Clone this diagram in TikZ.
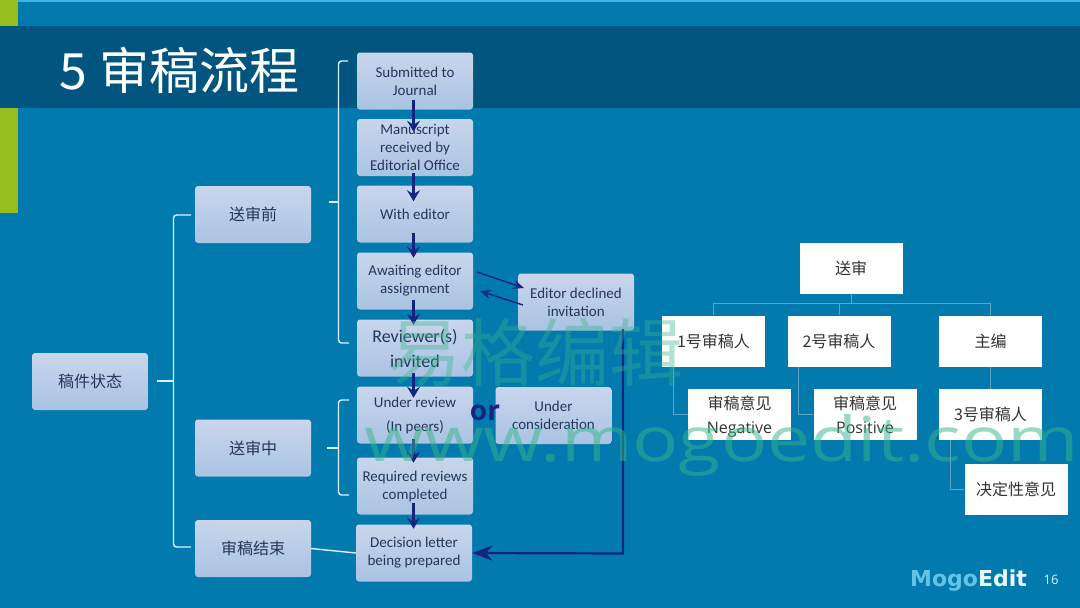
\documentclass[tikz,border=0pt]{standalone}
\usepackage{fontspec}
\setmainfont{Carlito}
\newfontfamily\cjk{Noto Sans CJK SC}
\newfontfamily\logofont{DejaVu Sans}
\newfontfamily\wmfont{Open Sans}
\usetikzlibrary{arrows.meta}
\definecolor{bgblue}{HTML}{037AAE}
\definecolor{band}{HTML}{02557E}
\definecolor{topline}{HTML}{3FB4E0}
\definecolor{lime}{HTML}{96BE1E}
\definecolor{boxtop}{HTML}{C9D6EC}
\definecolor{boxbot}{HTML}{A9C3E2}
\definecolor{boxtext}{HTML}{26365A}
\definecolor{navy}{HTML}{15257F}
\definecolor{treeline}{HTML}{5FA6C4}
\definecolor{wmgreen}{HTML}{35B58A}
\tikzset{
 x=1pt,y=-1pt,
 bluebox/.style={draw=none,rounded corners=3pt,top color=boxtop,bottom color=boxbot,text=boxtext,align=center,inner sep=0pt,minimum width=116pt,minimum height=57pt,font=\fontsize{15}{18}\selectfont},
 catbox/.style={bluebox,font=\cjk\fontsize{16}{18}\selectfont},
 whitebox/.style={fill=white,draw=none,text=black!80,align=center,inner sep=0pt,minimum width=103pt,minimum height=51pt,font=\cjk\fontsize{16}{24}\selectfont},
 flow/.style={draw=navy,line width=2.2pt,-{Stealth[length=11pt,width=13pt,inset=4pt]}},
 thinflow/.style={draw=navy,line width=1.4pt,-{Stealth[length=11pt,width=9pt,inset=4pt]}},
 bigflow/.style={draw=navy,line width=2.2pt,-{Stealth[length=20pt,width=15pt,inset=6pt]}},
 bracket/.style={draw=white!85!cyan,line width=1.4pt,rounded corners=3pt},
 treeedge/.style={draw=treeline,line width=0.8pt},
}
\begin{document}
\begin{tikzpicture}
\useasboundingbox (0,0) rectangle (1080,608);
\fill[bgblue] (0,0) rectangle (1080,608);
\fill[topline] (0,0) rectangle (1080,1.5);
\fill[lime] (0,0) rectangle (18,26);
\fill[lime] (0,108) rectangle (18,213);
\fill[band] (0,26) rectangle (1080,108);
\node[anchor=west,text=white,inner sep=0pt,font=\cjk\fontsize{50}{52}\selectfont] (title) at (59,70) {5\hspace{1pt} 审稿流程};
% left column
\node[catbox] (state) at (90,381.5) {稿件状态};
\node[catbox] (pre) at (253,214.5) {送审前};
\node[catbox] (mid) at (253,448) {送审中};
\node[catbox] (end) at (253,548.5) {审稿结束};
% flow column
\node[bluebox] (a1) at (415,81) {Submitted to\\Journal};
\node[bluebox] (a2) at (415,147.5) {Manuscript\\received by\\Editorial Office};
\node[bluebox] (a3) at (415,214) {With editor};
\node[bluebox] (a4) at (415,281) {Awaiting editor\\assignment};
\node[bluebox,font=\fontsize{18}{25}\selectfont] (a5) at (415,348) {Reviewer(s)\\invited};
\node[bluebox,font=\fontsize{15}{24}\selectfont] (a6) at (415,415) {Under review\\(In peers)};
\node[bluebox] (a7) at (415,486) {Required reviews\\completed};
\node[bluebox] (a8) at (414,553) {Decision letter\\being prepared};
\node[bluebox] (dec) at (576,302) {Editor declined\\invitation};
\node[bluebox] (cons) at (553.5,415.5) {Under\\consideration};
% flow arrows
\draw[flow] (a1.south) ++(-1.5,-10) -- ++(0,32);
\draw[flow] (a2.south) ++(-1.5,-3) -- ++(0,28);
\draw[flow] (a3.south) ++(-1.5,-10) -- ++(0,25);
\draw[flow] (a4.south) ++(-1.5,-10) -- ++(0,25);
\draw[flow] (a5.south) ++(-1.5,-4) -- ++(0,25);
\draw[flow] (a6.south) ++(-1.5,-5) -- ++(0,24);
\draw[flow] (a7.south) ++(-1.5,-12) -- ++(0,26);
\coordinate (s4) at (477,272);
\coordinate (e4) at (524,288);
\coordinate (s5) at (523,305);
\coordinate (e5) at (480,291);
\draw[thinflow] (s4) -- (e4);
\draw[thinflow] (s5) -- (e5);
\coordinate (bend) at (623,553.5);
\coordinate (ds) at (623,329);
\draw[bigflow] (ds) -- (bend) -- (a8.east);
% brackets
\coordinate (b1t) at (191,215);
\coordinate (b1b) at (191,547);
\coordinate (b1m) at (157,381);
\draw[bracket] (b1t) -- (173.5,215) -- (173.5,547) -- (b1b);
\draw[bracket] (b1m) -- (173.5,381);
\coordinate (b2t) at (348,61);
\coordinate (b2b) at (349,343);
\coordinate (b2m) at (329,202);
\draw[bracket] (b2t) -- (338.5,61) -- (338.5,343) -- (b2b);
\draw[bracket] (b2m) -- (338.5,202);
\coordinate (b3t) at (349,400);
\coordinate (b3b) at (349,495);
\coordinate (b3m) at (327,448);
\draw[bracket] (b3t) -- (338.5,400) -- (338.5,495) -- (b3b);
\draw[bracket] (b3m) -- (338.5,448);
\draw[bracket] (end.east) -- (a8.west);
% right tree
\node[whitebox] (root) at (851,268.5) {送审};
\node[whitebox] (r1) at (713.5,341) {1号审稿人};
\node[whitebox] (r2) at (839,341) {2号审稿人};
\node[whitebox] (ed) at (990.5,341) {主编};
\node[whitebox] (o1) at (739.5,414.5) {审稿意见\\\smash{\fontspec{Open Sans}Negative}};
\node[whitebox] (o2) at (865,414.5) {审稿意见\\{\fontspec{Open Sans}Positive}};
\node[whitebox] (r3) at (990.5,414.5) {3号审稿人};
\node[whitebox] (fin) at (1016,489) {决定性意见};
\coordinate (jt) at (851,303);
\coordinate (c1) at (673,367);
\coordinate (c2) at (798,367);
\coordinate (c3) at (950,440);
\draw[treeedge] (root.south) -- (jt);
\draw[treeedge] (r1.north) |- (jt);
\draw[treeedge] (r2.north) |- (jt);
\draw[treeedge] (ed.north) |- (jt);
\draw[treeedge] (ed.south) -- (r3.north);
\draw[treeedge] (c1) |- (o1.west);
\draw[treeedge] (c2) |- (o2.west);
\draw[treeedge] (c3) |- (fin.west);
% footer
\node[anchor=west,inner sep=0pt,font=\logofont\bfseries\fontsize{22}{22}\selectfont] (logo) at (910,581) {\textcolor{topline!80!white}{Mogo}\textcolor{white!90!cyan}{Edit}};
\node[text=white!85!cyan,inner sep=0pt,font=\wmfont\fontsize{13}{13}\selectfont] (page) at (1051,580) {16};
% watermark
\node[text=wmgreen,opacity=.38,inner sep=0pt,font=\cjk\fontsize{74}{74}\selectfont] (wm1) at (535,352) {易格编辑};
\node[text=wmgreen,opacity=.5,inner sep=0pt,font=\wmfont\fontsize{62}{62}\selectfont,anchor=west,xscale=1.24] (wm2) at (364,445) {www.mogoedit.com};
\node[text=navy,inner sep=0pt,font=\wmfont\bfseries\fontsize{28}{28}\selectfont] (or) at (485,413) {or};
\end{tikzpicture}
\end{document}
